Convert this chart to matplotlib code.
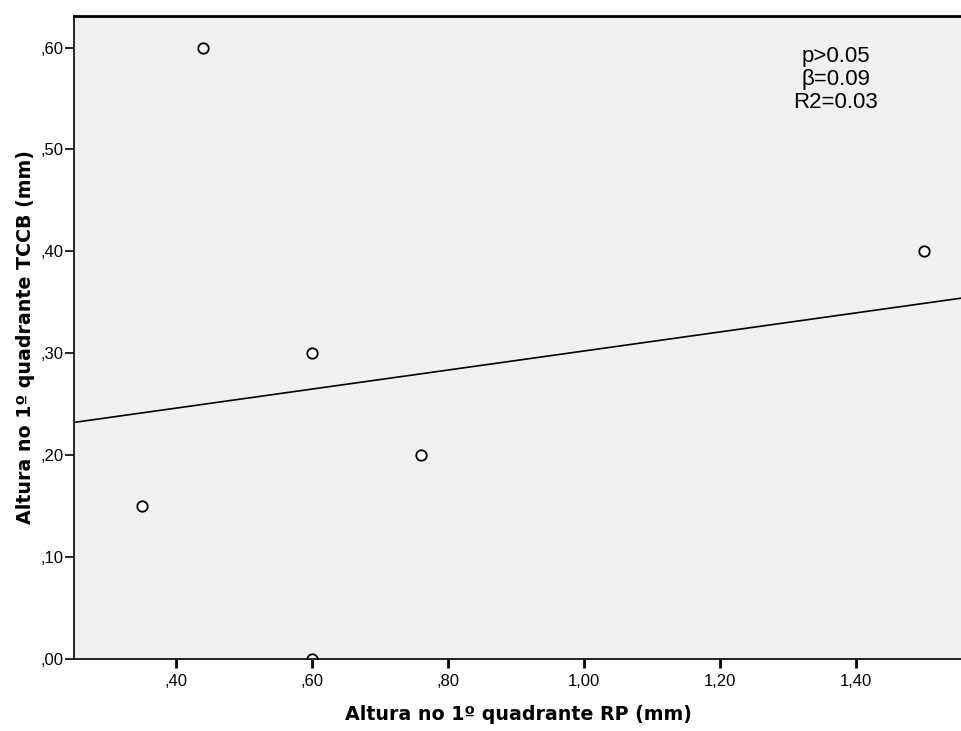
import matplotlib.pyplot as plt
import numpy as np

plt.rcParams['font.family'] = ['Liberation Sans', 'DejaVu Sans']

rp = [0.35, 0.44, 0.60, 0.60, 0.76, 1.50]
tccb = [0.15, 0.60, 0.30, 0.00, 0.20, 0.40]
x_ticks = [0.40, 0.60, 0.80, 1.00, 1.20, 1.40]
x_labels = [',40', ',60', ',80', '1,00', '1,20', '1,40']
y_ticks = [0.00, 0.10, 0.20, 0.30, 0.40, 0.50, 0.60]
y_labels = [',00', ',10', ',20', ',30', ',40', ',50', ',60']
stats_text = 'p>0.05\nβ=0.09\nR2=0.03'

fig = plt.figure(figsize=(9.62, 7.31), dpi=100)
ax = fig.add_axes([0.0769, 0.0985, 0.9231, 0.8796])
ax.set_facecolor('#f0f0f0')

xlim = (0.25, 1.556)
slope, intercept = np.polyfit(rp, tccb, 1)
xs = np.array(xlim)
ax.plot(xs, slope * xs + intercept, color='black', lw=1.2)
ax.plot(rp, tccb, 'o', ms=7.5, mfc='white', mec='black', mew=1.3)

ax.set_xlim(*xlim)
ax.set_ylim(0, 0.631)
ax.set_xticks(x_ticks)
ax.set_xticklabels(x_labels)
ax.set_yticks(y_ticks)
ax.set_yticklabels(y_labels)
ax.tick_params(direction='out', length=6.5, labelsize=12, color='black')
ax.tick_params(axis='x', width=2, pad=4)
ax.tick_params(axis='y', width=1.2, pad=1)
for s in ['left', 'bottom']:
    ax.spines[s].set_linewidth(1.2)
ax.spines['top'].set_linewidth(2)
ax.spines['right'].set_visible(False)

ax.set_xlabel('Altura no 1º quadrante RP (mm)', fontsize=13.7, fontweight='bold',
              family='DejaVu Sans', labelpad=12)
ax.set_ylabel('Altura no 1º quadrante TCCB (mm)', fontsize=13.7, fontweight='bold',
              family='DejaVu Sans', labelpad=4)

ax.text(1.37, 0.602, stats_text, ha='center', va='top', fontsize=16, linespacing=1.14)

fig.savefig('out.png', dpi=100)
